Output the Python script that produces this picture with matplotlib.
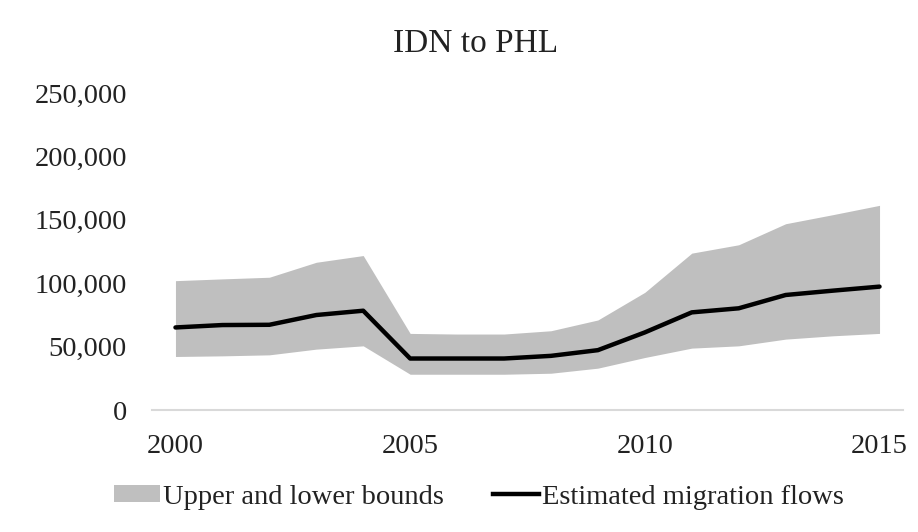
import matplotlib
matplotlib.use("Agg")
import matplotlib.pyplot as plt
from matplotlib.patches import Patch
from matplotlib.lines import Line2D
from matplotlib.ticker import FuncFormatter

years = list(range(2000, 2016))
estimate = [65100, 67000, 67200, 74900, 78300, 40600, 40600, 40600, 42700,
            47200, 61200, 77000, 80200, 90700, 94100, 97300]
upper = [102000, 103400, 104700, 116500, 121800, 60400, 59900, 59900, 62500,
         71000, 92800, 123700, 130300, 146900, 154000, 161400]
lower = [42200, 42700, 43500, 48000, 50600, 28200, 28200, 28200, 29000,
         33000, 41400, 48800, 50600, 55900, 58500, 60400]

title = "IDN to PHL"
band_label = "Upper and lower bounds"
line_label = "Estimated migration flows"
yticks = [0, 50000, 100000, 150000, 200000, 250000]
xticks = [2000, 2005, 2010, 2015]

plt.rcParams['font.family'] = ['Liberation Serif', 'DejaVu Serif']

fig = plt.figure(figsize=(9.18, 5.32), dpi=100)
ax = fig.add_axes([152/918, 1-410/532, (903-152)/918, (410-93)/532])

ax.fill_between(years, lower, upper, color='#BFBFBF', linewidth=0)
ax.plot(years, estimate, color='black', linewidth=3.2, solid_joinstyle='round',
        solid_capstyle='round')

ax.set_xlim(1999.5, 2015.5)
ax.set_ylim(0, 250000)
ax.set_yticks(yticks)
ax.set_xticks(xticks)
ax.yaxis.set_major_formatter(FuncFormatter(lambda v, p: f"{int(v):,}"))
ax.tick_params(axis='both', length=0, labelsize=20.5, colors='#222222')
ax.tick_params(axis='y', pad=18)
ax.tick_params(axis='x', pad=17)
for s in ['top', 'right', 'left']:
    ax.spines[s].set_visible(False)
ax.spines['bottom'].set_color('#D9D9D9')
ax.spines['bottom'].set_linewidth(1.5)

fig.text(476/918, 1-44/532, title, ha='center', va='center', fontsize=24,
         color='#222222')

handles = [Patch(facecolor='#BFBFBF', edgecolor='none'),
           Line2D([0], [0], color='black', linewidth=3.2)]
leg = fig.legend(handles, [band_label, line_label], loc='center',
                 bbox_to_anchor=(479/918, 1-497/532), ncol=2, frameon=False,
                 fontsize=20.5, handlelength=1.6, handletextpad=0.1,
                 columnspacing=1.75, handleheight=0.5)
for t in leg.get_texts():
    t.set_color('#222222')

fig.savefig("out.png", dpi=100)
